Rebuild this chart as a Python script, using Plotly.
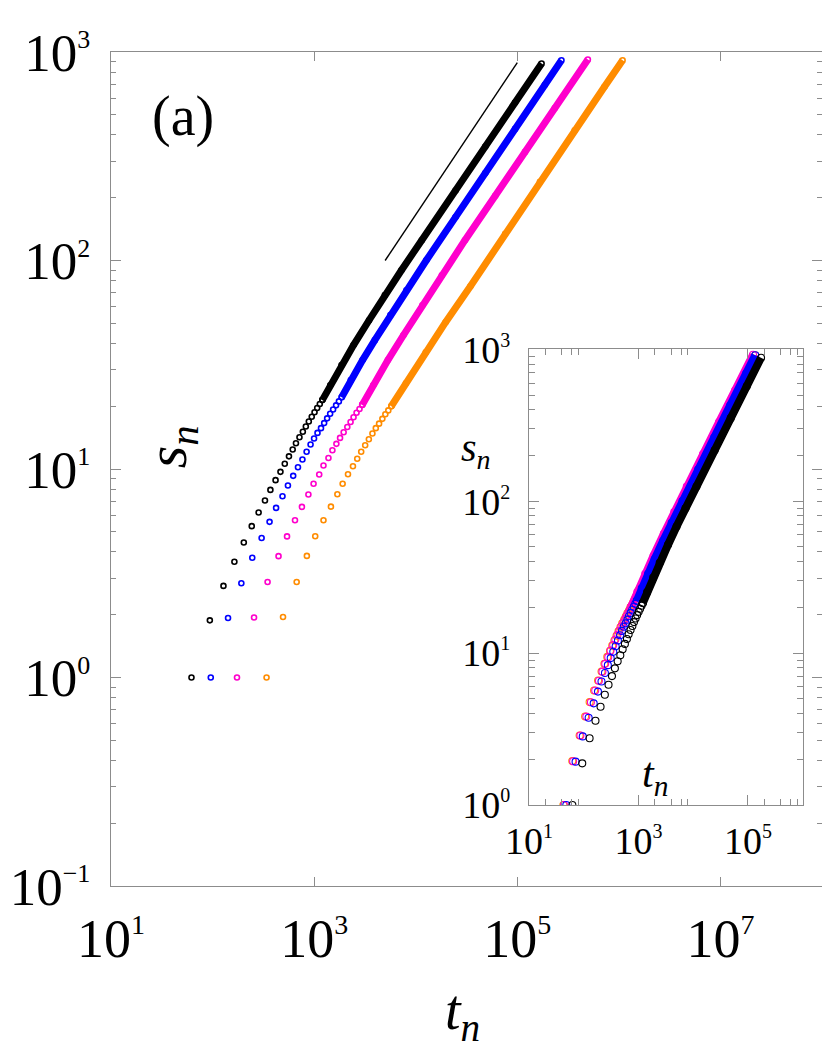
import plotly.graph_objects as go

# ── data (t_n, s_n) ──────────────────────────────────────────────────
# separate circles at small n
black_t = [62, 94, 128, 164, 203, 243, 284, 328, 371, 417, 466, 514, 565, 615,
           662, 717, 774, 828, 886, 947, 1009, 1072, 1137, 1203]
black_s = [1.00, 1.88, 2.75, 3.59, 4.44, 5.32, 6.19, 7.06, 7.94, 8.84, 9.69, 10.6,
           11.5, 12.4, 13.3, 14.2, 15.1, 16.0, 16.9, 17.8, 18.7, 19.6, 20.5, 21.4]
blue_t = [96, 142, 192, 246, 304, 364, 422, 488, 552, 622, 693, 767, 843, 922,
          998, 1079, 1168, 1255, 1343, 1437, 1537, 1644, 1752, 1866]
blue_s = [1.00, 1.93, 2.83, 3.75, 4.67, 5.58, 6.51, 7.40, 8.33, 9.27, 10.2, 11.1,
          12.1, 13.1, 14.0, 14.9, 15.7, 16.6, 17.5, 18.4, 19.3, 20.2, 21.1, 22.1]
magenta_t = [174, 256, 348, 446, 541, 648, 758, 878, 987, 1122, 1236, 1383,
             1513, 1656, 1799, 1952, 2121, 2284, 2444, 2615, 2797, 2972]
magenta_s = [1.00, 1.94, 2.87, 3.82, 4.75, 5.68, 6.58, 7.55, 8.50, 9.41, 10.4,
             11.3, 12.3, 13.2, 14.1, 15.0, 15.9, 16.8, 17.7, 18.6, 19.4, 20.3]
orange_t = [340, 494, 673, 848, 1025, 1236, 1463, 1693, 1908, 2154, 2411, 2656,
            2906, 3180, 3456, 3748, 4046, 4358, 4695, 5023, 5373, 5746]
orange_s = [1.00, 1.95, 2.87, 3.83, 4.76, 5.68, 6.60, 7.57, 8.50, 9.44, 10.3,
            11.2, 12.1, 13.0, 13.9, 14.8, 15.7, 16.5, 17.4, 18.3, 19.1, 20.0]

# dense part, where the circles merge into a band
black_band_t = [1203, 1440, 1861, 2444, 3473, 4966, 7232, 11470, 24660, 48450,
                95170, 173600]
black_band_s = [21.4, 25.2, 31.5, 39.3, 51.7, 68.2, 89.8, 125.1, 216.6, 352.2,
                571.9, 880.8]
blue_band_t = [1866, 2295, 2999, 3957, 5633, 8094, 12730, 24660, 48450, 95170,
               186900, 272300]
blue_band_s = [22.1, 26.7, 33.3, 41.5, 54.7, 72.0, 100.3, 161.5, 262.8, 427.8,
               696.2, 913.3]
magenta_band_t = [2972, 3815, 5324, 7564, 11630, 18080, 30530, 60670, 119200,
                  234200, 495500]
magenta_band_s = [20.3, 25.2, 33.3, 43.8, 61.0, 85.0, 125.1, 204.6, 331.8,
                  538.1, 920.4]
orange_band_t = [5746, 8003, 12550, 19690, 34560, 76010, 167100, 367300, 721600,
                 1089000]
orange_band_s = [20.0, 25.8, 36.3, 50.6, 75.3, 134.4, 238.8, 421.7, 681.8, 913.3]

# guide line (slope line above the data)
guide_t = [5000, 100000]
guide_s = [100, 890]

# inset: t_n rescaled per curve
inset_scale = [1.0, 0.5, 0.25, 0.125]   # black, blue, magenta, orange

COLORS = ["#000000", "#0000ff", "#ff00cc", "#ff8c00"]
FONT = "Liberation Serif, Times New Roman, serif"
AXCOL = "#8c8c8c"

series = [
    (black_t, black_s, black_band_t, black_band_s),
    (blue_t, blue_s, blue_band_t, blue_band_s),
    (magenta_t, magenta_s, magenta_band_t, magenta_band_s),
    (orange_t, orange_s, orange_band_t, orange_band_s),
]

fig = go.Figure()

# ── main panel ───────────────────────────────────────────────────────
for (t, s, bt, bs), col in zip(series, COLORS):
    mk = dict(symbol="circle-open", size=5, color=col, line=dict(width=1.6, color=col))
    fig.add_trace(go.Scatter(x=t, y=s, mode="markers", xaxis="x", yaxis="y",
                             showlegend=False, marker=mk))
    fig.add_trace(go.Scatter(x=bt, y=bs, mode="lines+markers", xaxis="x", yaxis="y",
                             showlegend=False, line=dict(color=col, width=7), marker=mk))

fig.add_trace(go.Scatter(
    x=guide_t, y=guide_s, mode="lines", xaxis="x", yaxis="y", showlegend=False,
    line=dict(color="black", width=1.4),
))

# ── inset (drawn orange first, black last) ───────────────────────────
for (t, s, bt, bs), col, k in reversed(list(zip(series, COLORS, inset_scale))):
    mk = dict(symbol="circle-open", size=7, color=col, line=dict(width=1.1, color=col))
    fig.add_trace(go.Scatter(x=[v * k for v in t], y=s, mode="markers",
                             xaxis="x2", yaxis="y2", showlegend=False, marker=mk))
    fig.add_trace(go.Scatter(x=[v * k for v in bt], y=bs, mode="lines+markers",
                             xaxis="x2", yaxis="y2", showlegend=False,
                             line=dict(color=col, width=8), marker=mk))


def lab(e, size):
    e = str(e).replace("-", "\u2212")
    return f"10<sup><span style='font-size:{size}px'>{e}</span></sup>"


y_minor = [k * 10 ** e for e in range(-1, 3) for k in range(2, 10)]
y2_minor = [k * 10 ** e for e in range(0, 3) for k in range(2, 10)]
x2_minor = [k * 10 ** e for e in (1, 3, 5) for k in (2, 4, 6, 8)]

_ax = dict(type="log", showline=True, linecolor=AXCOL, linewidth=1.2, mirror="ticks",
           ticks="inside", tickcolor=AXCOL, tickwidth=1.2, showgrid=False,
           zeroline=False, tickmode="array", automargin=False)

# the page body adds an 8 px margin, so the figure is sized to fit inside it
fig.update_layout(
    width=814, height=1042,
    margin=dict(l=103, r=0, t=44, b=164),
    paper_bgcolor="white", plot_bgcolor="white",
    font=dict(family=FONT, color="black"),
    xaxis=dict(**_ax, range=[1, 8], domain=[0, 1], ticklen=9,
               tickvals=[1e1, 1e3, 1e5, 1e7], ticktext=[lab(e, 28) for e in (1, 3, 5, 7)],
               tickfont=dict(size=54, family=FONT), ticklabelstandoff=5),
    yaxis=dict(**_ax, range=[-1, 3], domain=[0, 1], ticklen=10,
               tickvals=[0.1, 1, 10, 100, 1000],
               ticktext=[lab(e, 26) for e in (-1, 0, 1, 2, 3)],
               tickfont=dict(size=53, family=FONT), ticklabelstandoff=9,
               minor=dict(ticks="inside", ticklen=5, tickcolor=AXCOL, tickvals=y_minor)),
    xaxis2=dict(**_ax, range=[1, 6], domain=[0.5879, 0.9728], anchor="y2", ticklen=10,
                tickvals=[1e1, 1e3, 1e5], ticktext=[lab(e, 20) for e in (1, 3, 5)],
                tickfont=dict(size=38, family=FONT), ticklabelstandoff=2,
                minor=dict(ticks="inside", ticklen=6, tickcolor=AXCOL, tickvals=x2_minor)),
    yaxis2=dict(**_ax, range=[0, 3], domain=[0.0971, 0.6435], anchor="x2", ticklen=10,
                tickvals=[1, 10, 100, 1000], ticktext=[lab(e, 20) for e in (0, 1, 2, 3)],
                tickfont=dict(size=38, family=FONT), ticklabelstandoff=10,
                minor=dict(ticks="inside", ticklen=6, tickcolor=AXCOL, tickvals=y2_minor)),
)

_ann = dict(xref="paper", yref="paper", showarrow=False, xanchor="center",
            yanchor="middle", font=dict(family=FONT, color="black"))
fig.add_annotation(**_ann, x=0.1013, y=0.923, text="(a)", font_size=56)
fig.add_annotation(**_ann, x=0.4937, y=-0.154, text="<i>t</i><sub><i>n</i></sub>", font_size=56)
fig.add_annotation(**_ann, x=0.083, y=0.526, text="<i>s</i><sub><i>n</i></sub>",
                   font_size=58, textangle=-90)
fig.add_annotation(**_ann, x=0.513, y=0.523, text="<i>s</i><sub><i>n</i></sub>", font_size=40)
fig.add_annotation(**_ann, x=0.765, y=0.132, text="<i>t</i><sub><i>n</i></sub>", font_size=42)

fig.write_html("out.html")
